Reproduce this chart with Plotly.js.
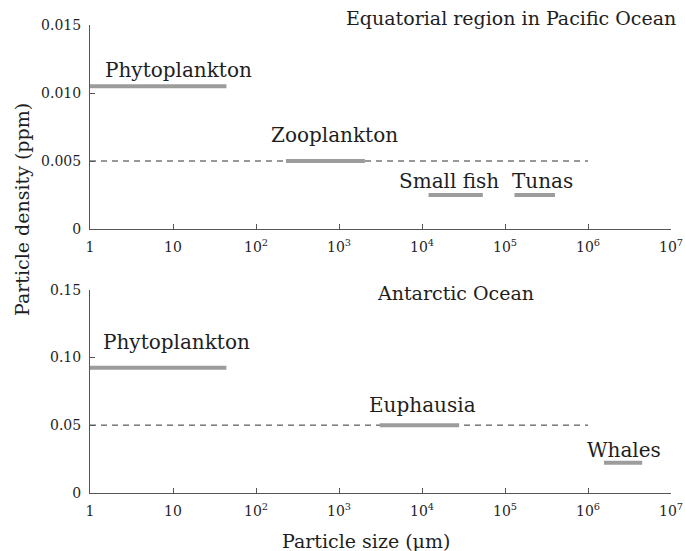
<!DOCTYPE html>
<html>
<head>
<meta charset="utf-8">
<script src="https://cdn.plot.ly/plotly-3.0.1.min.js"></script>
<style>html,body{margin:0;padding:0;background:#fff;}#chart{width:685px;height:551px;}</style>
</head>
<body>
<div id="chart"></div>
<script>
// ---- Data ----
const pacificNames = ["Phytoplankton", "Zooplankton", "Small fish", "Tunas"];
const pacificSizeMin = [1, 230, 12000, 130000];
const pacificSizeMax = [44, 2050, 54000, 400000];
const pacificDensity = [0.0105, 0.005, 0.0025, 0.0025];
const pacificRef = {xMin: 1, xMax: 1000000, y: 0.005};

const antarcticNames = ["Phytoplankton", "Euphausia", "Whales"];
const antarcticSizeMin = [1, 3100, 1560000];
const antarcticSizeMax = [44, 28000, 4500000];
const antarcticDensity = [0.0925, 0.05, 0.0222];
const antarcticRef = {xMin: 1, xMax: 1000000, y: 0.05};

const xTickVals = [1, 10, 100, 1000, 10000, 100000, 1000000, 10000000];
const xTickText = ["1", "10", "10<sup>2</sup>", "10<sup>3</sup>", "10<sup>4</sup>", "10<sup>5</sup>", "10<sup>6</sup>", "10<sup>7</sup>"];
const pacificYTicks = [0, 0.005, 0.010, 0.015];
const pacificYText = ["0", "0.005", "0.010", "0.015"];
const antarcticYTicks = [0, 0.05, 0.10, 0.15];
const antarcticYText = ["0", "0.05", "0.10", "0.15"];

const pacificTitle = "Equatorial region in Pacific Ocean";
const antarcticTitle = "Antarctic Ocean";

// ---- Styles ----
const FONT = "DejaVu Serif";
const barColor = "#9c9c9c";
const axisColor = "#555";
const textColor = "#1e1e1e";

const traces = [];
function addBars(names, mins, maxs, dens, xa, ya) {
  for (let i = 0; i < names.length; i++) {
    traces.push({
      x: [mins[i], maxs[i]], y: [dens[i], dens[i]],
      xaxis: xa, yaxis: ya, mode: "lines", type: "scatter",
      line: {color: barColor, width: 4}, hoverinfo: "skip", showlegend: false
    });
  }
}
function addRef(ref, xa, ya) {
  traces.push({
    x: [ref.xMin, ref.xMax], y: [ref.y, ref.y],
    xaxis: xa, yaxis: ya, mode: "lines", type: "scatter",
    line: {color: "#333", width: 1, dash: "6px,5px"}, hoverinfo: "skip", showlegend: false
  });
}
addRef(pacificRef, "x", "y");
addBars(pacificNames, pacificSizeMin, pacificSizeMax, pacificDensity, "x", "y");
addRef(antarcticRef, "x2", "y2");
addBars(antarcticNames, antarcticSizeMin, antarcticSizeMax, antarcticDensity, "x2", "y2");

const xDomain = [90/685, 671/685];
const topDomain = [1 - 229/551, 1 - 25/551];
const botDomain = [1 - 492.7/551, 1 - 290/551];

function xAxis(anchor) {
  return {
    type: "log", range: [0, 7], domain: xDomain, anchor: anchor,
    tickvals: xTickVals, ticktext: xTickText, ticks: "inside", ticklen: 5,
    tickcolor: axisColor, showline: true, linecolor: axisColor, linewidth: 1,
    showgrid: false, zeroline: false, mirror: false,
    tickfont: {family: FONT, size: 14, color: textColor}, ticklabelstandoff: 5
  };
}
function yAxis(anchor, domain, range, vals, text) {
  return {
    range: range, domain: domain, anchor: anchor,
    tickvals: vals, ticktext: text, ticks: "inside", ticklen: 5,
    tickcolor: axisColor, showline: true, linecolor: axisColor, linewidth: 1,
    showgrid: false, zeroline: false, mirror: false,
    tickfont: {family: FONT, size: 14, color: textColor}, ticklabelstandoff: 5
  };
}

const labelFont = {family: FONT, size: 20, color: textColor};
const titleFont = {family: FONT, size: 19, color: textColor};
function lab(text, xr, yr, lx, ly, extra) {
  return Object.assign({text: text, xref: xr, yref: yr, x: lx, y: ly, showarrow: false,
    font: labelFont, xanchor: "center", yanchor: "middle"}, extra || {});
}

const annotations = [
  lab(pacificTitle, "paper", "paper", 678/685, 1 - 18/551, {xanchor: "right", font: titleFont}),
  lab(pacificNames[0], "x", "y", 1.07, 0.01169),
  lab(pacificNames[1], "x", "y", 2.95, 0.0069),
  lab(pacificNames[2], "x", "y", 4.33, 0.00351),
  lab(pacificNames[3], "x", "y", 5.45, 0.00351),
  lab(antarcticTitle, "x2", "y2", 4.40, 0.1478, {font: titleFont}),
  lab(antarcticNames[0], "x2", "y2", 1.04, 0.1115),
  lab(antarcticNames[1], "x2", "y2", 4.01, 0.0649),
  lab(antarcticNames[2], "x2", "y2", 6.43, 0.0316),
  lab("Particle density (ppm)", "paper", "paper", 22/685, 1 - 210/551, {textangle: -90, font: titleFont}),
  lab("Particle size (μm)", "paper", "paper", 366/685, 1 - 541/551, {font: titleFont})
];

const layout = {
  width: 685, height: 551,
  margin: {l: 0, r: 0, t: 0, b: 0},
  paper_bgcolor: "#fff", plot_bgcolor: "rgba(0,0,0,0)",
  showlegend: false,
  xaxis: xAxis("y"),
  yaxis: yAxis("x", topDomain, [0, 0.015], pacificYTicks, pacificYText),
  xaxis2: xAxis("y2"),
  yaxis2: yAxis("x2", botDomain, [0, 0.15], antarcticYTicks, antarcticYText),
  annotations: annotations
};

Plotly.newPlot("chart", traces, layout, {displayModeBar: false, staticPlot: true});
</script>
</body>
</html>
